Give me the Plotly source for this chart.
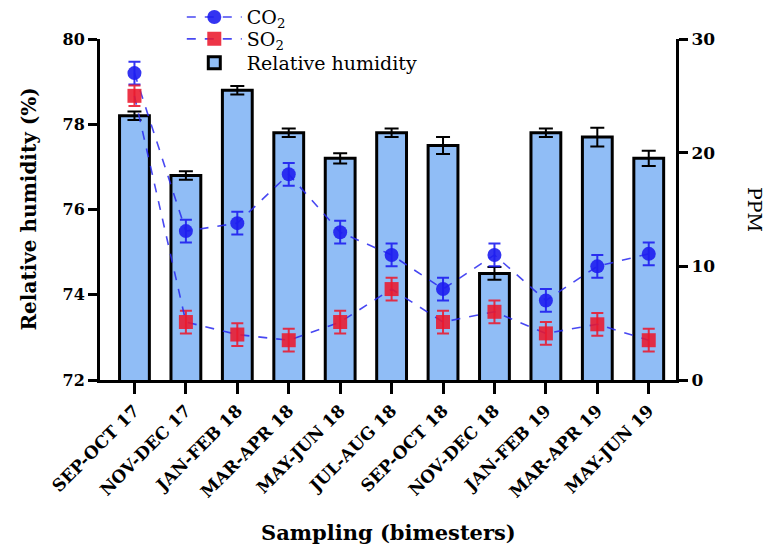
import plotly.graph_objects as go

categories = ["SEP-OCT 17", "NOV-DEC 17", "JAN-FEB 18", "MAR-APR 18", "MAY-JUN 18",
              "JUL-AUG 18", "SEP-OCT 18", "NOV-DEC 18", "JAN-FEB 19", "MAR-APR 19", "MAY-JUN 19"]
rh = [78.2, 76.8, 78.8, 77.8, 77.2, 77.8, 77.5, 74.5, 77.8, 77.7, 77.2]
rh_err = [0.1, 0.1, 0.1, 0.1, 0.12, 0.1, 0.2, 0.15, 0.1, 0.22, 0.18]
co2 = [27.0, 13.1, 13.8, 18.1, 13.0, 11.0, 8.0, 11.0, 7.0, 10.0, 11.1]
co2_err = [1.0, 1.0, 1.0, 1.0, 1.0, 1.0, 1.0, 1.0, 1.0, 1.0, 1.0]
so2 = [25.0, 5.1, 4.0, 3.5, 5.1, 8.0, 5.1, 6.0, 4.1, 4.9, 3.5]
so2_err = [0.9, 1.0, 1.0, 1.0, 1.0, 1.0, 1.0, 1.0, 1.0, 1.0, 1.0]

FONT = "DejaVu Serif"
x = list(range(len(categories)))

fig = go.Figure()
fig.add_trace(go.Bar(
    x=x, y=rh, name="Relative humidity", width=0.58,
    marker=dict(color="#90bdf6", line=dict(color="black", width=3)),
    error_y=dict(type="data", array=rh_err, color="black", thickness=2, width=7),
    yaxis="y", showlegend=True, legend="legend3",
))
fig.add_trace(go.Scatter(
    x=x, y=co2, name="CO<sub>2</sub>", mode="lines+markers", yaxis="y2",
    line=dict(color="rgba(40,40,240,0.85)", width=1.6, dash="dash"),
    marker=dict(symbol="circle", size=14, color="rgba(30,30,240,0.9)"),
    error_y=dict(type="data", array=co2_err, color="rgba(30,30,240,0.9)", thickness=2, width=6),
    showlegend=True, legend="legend",
))
fig.add_trace(go.Scatter(
    x=x, y=so2, name="SO<sub>2</sub>", mode="lines+markers", yaxis="y2",
    line=dict(color="rgba(40,40,240,0.85)", width=1.6, dash="dash"),
    marker=dict(symbol="square", size=14, color="rgba(235,25,45,0.88)"),
    error_y=dict(type="data", array=so2_err, color="rgba(235,25,45,0.88)", thickness=2, width=6),
    showlegend=True, legend="legend2",
))

leg_common = dict(x=0.142, xanchor="left", yanchor="middle",
                  font=dict(family=FONT, size=19, color="black"),
                  bgcolor="rgba(0,0,0,0)", itemwidth=55)

fig.update_layout(
    width=767, height=547,
    margin=dict(l=100, r=91, t=39, b=167, autoexpand=False),
    plot_bgcolor="white", paper_bgcolor="white",
    font=dict(family=FONT, color="black"),
    barmode="overlay",
    xaxis=dict(
        range=[-0.67, 10.53], tickmode="array", tickvals=x, ticktext=categories,
        tickangle=-45, ticks="outside", ticklen=11, tickwidth=3, tickcolor="black",
        showline=True, linewidth=3, linecolor="black", showgrid=False, zeroline=False,
        tickfont=dict(family=FONT, size=17, color="black", weight="bold"),
    ),
    yaxis=dict(
        range=[72, 80], dtick=2, tick0=72, ticks="outside", ticklen=9, tickwidth=3,
        tickcolor="black", showline=True, linewidth=3, linecolor="black",
        showgrid=False, zeroline=False,
        tickfont=dict(family=FONT, size=16, color="black", weight="bold"),
    ),
    yaxis2=dict(
        range=[0, 30], dtick=10, tick0=0, overlaying="y", side="right",
        ticks="outside", ticklen=9, tickwidth=3, tickcolor="black",
        showline=True, linewidth=3, linecolor="black", showgrid=False, zeroline=False,
        tickfont=dict(family=FONT, size=17, color="black", weight="bold"),
    ),
    legend=dict(y=1.064, **leg_common),
    legend2=dict(y=1.0, **leg_common),
    legend3=dict(y=0.93, **leg_common),
    annotations=[
        dict(text="Relative humidity (%)", xref="paper", yref="paper",
             x=-0.125, y=0.5, xanchor="center", yanchor="middle", showarrow=False,
             textangle=-90, font=dict(family=FONT, size=20, color="black", weight="bold")),
        dict(text="PPM", xref="paper", yref="paper",
             x=1.138, y=0.5, xanchor="center", yanchor="middle", showarrow=False,
             textangle=90, font=dict(family=FONT, size=19, color="black")),
        dict(text="Sampling (bimesters)", xref="paper", yref="paper",
             x=0.5, y=-0.446, xanchor="center", yanchor="middle", showarrow=False,
             font=dict(family=FONT, size=21, color="black", weight="bold")),
    ],
)

fig.write_html("out.html")
